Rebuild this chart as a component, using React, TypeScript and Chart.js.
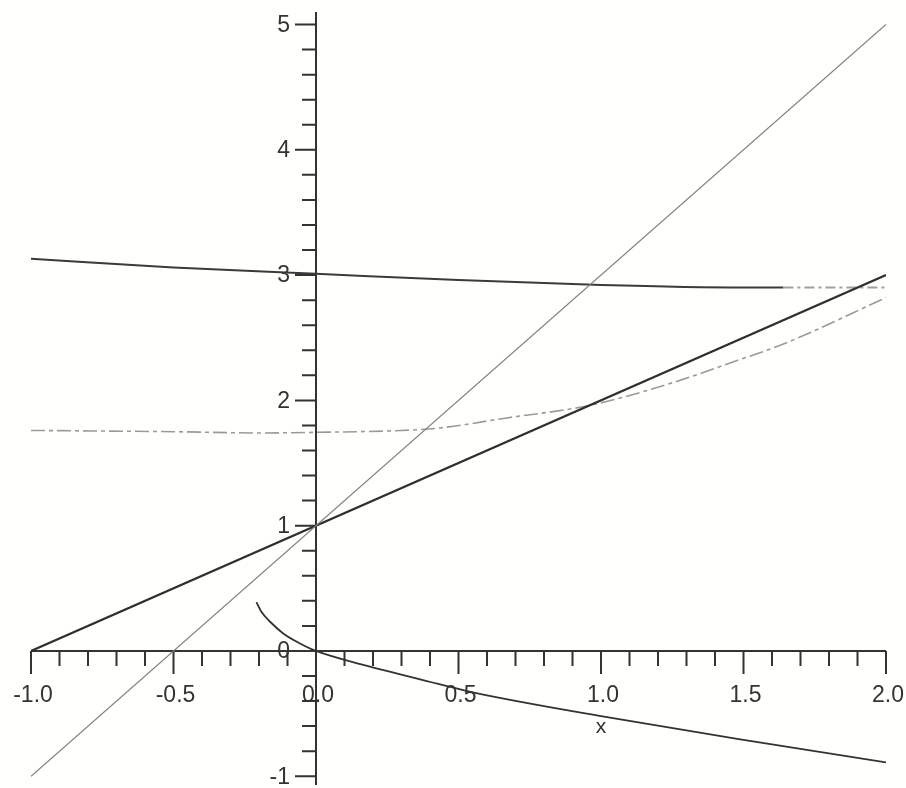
import React, { useEffect, useRef } from "react";
import { Chart, registerables } from "chart.js";

Chart.register(...registerables);

// ---- data ----
const lineX = [-1, 2];
const lineSteep = [-1, 5]; // y = 2x + 1
const lineMid = [0, 3]; // y = x + 1

const topCurveX = [-1, -0.5, 0, 0.5, 1, 1.5, 1.64, 2];
const topCurveY = [3.13, 3.06, 3.01, 2.96, 2.92, 2.9, 2.9, 2.9];

const dashCurveX = [-1, -0.5, -0.2, 0, 0.3, 0.435, 0.67, 0.96, 1.25, 1.48, 1.64, 2];
const dashCurveY = [1.76, 1.75, 1.74, 1.745, 1.76, 1.78, 1.86, 1.96, 2.14, 2.32, 2.45, 2.82];

const lowCurveX = [-0.209, -0.191, -0.162, -0.115, -0.056, 0, 0.18, 0.46, 0.55, 1.0, 1.5, 2.0];
const lowCurveY = [0.39, 0.31, 0.235, 0.14, 0.06, 0.0, -0.12, -0.28, -0.33, -0.52, -0.71, -0.89];

const xMajorTicks = [-1.0, -0.5, 0.0, 0.5, 1.0, 1.5, 2.0];
const xTickLabels = ["-1.0", "-0.5", "0.0", "0.5", "1.0", "1.5", "2.0"];
const yMajorTicks = [-1, 0, 1, 2, 3, 4, 5];
const yTickLabels = ["-1", "0", "1", "2", "3", "4", "5"];
const xAxisTitle = "x";

const pts = (xs: number[], ys: number[]) => xs.map((x, i) => ({ x, y: ys[i] }));

const INK = "#333333";

const axesPlugin = {
  id: "mapleAxes",
  beforeDatasetsDraw(chart: any) {
    const { ctx, chartArea, scales } = chart;
    const xs = scales.x;
    const ys = scales.y;
    const ox = xs.getPixelForValue(0);
    const oy = ys.getPixelForValue(0);
    ctx.save();
    ctx.strokeStyle = INK;
    ctx.fillStyle = INK;
    ctx.lineWidth = 2;
    // axis lines
    ctx.beginPath();
    ctx.moveTo(ox, chartArea.top);
    ctx.lineTo(ox, chartArea.bottom);
    ctx.moveTo(xs.getPixelForValue(-1), oy);
    ctx.lineTo(xs.getPixelForValue(2), oy);
    ctx.stroke();
    // x ticks every 0.1
    ctx.beginPath();
    for (let i = -10; i <= 20; i++) {
      const px = xs.getPixelForValue(i / 10);
      const len = i % 5 === 0 ? 23 : 15;
      ctx.moveTo(px, oy);
      ctx.lineTo(px, oy + len);
    }
    // y ticks every 0.2
    for (let i = -5; i <= 25; i++) {
      const py = ys.getPixelForValue(i / 5);
      const len = i % 5 === 0 ? 21 : 14;
      ctx.moveTo(ox, py);
      ctx.lineTo(ox - len, py);
    }
    ctx.stroke();
    // labels
    ctx.font = "23px 'Liberation Sans', Arial, sans-serif";
    ctx.textAlign = "center";
    ctx.textBaseline = "middle";
    xMajorTicks.forEach((v, i) => {
      ctx.fillText(xTickLabels[i], xs.getPixelForValue(v) + 2, oy + 45);
    });
    ctx.textAlign = "right";
    yMajorTicks.forEach((v, i) => {
      ctx.fillText(yTickLabels[i], ox - 26, ys.getPixelForValue(v) + 1);
    });
    ctx.font = "21px 'Liberation Sans', Arial, sans-serif";
    ctx.textAlign = "center";
    ctx.fillText(xAxisTitle, xs.getPixelForValue(1.0), oy + 76);
    ctx.restore();
  },
};

export default function App() {
  const ref = useRef<HTMLCanvasElement | null>(null);
  useEffect(() => {
    if (!ref.current) return;
    const chart = new Chart(ref.current, {
      type: "scatter",
      data: {
        datasets: [
          {
            data: pts(lineX, lineSteep),
            showLine: true,
            borderColor: "#808080",
            borderWidth: 1.2,
            pointRadius: 0,
          },
          {
            data: pts(lineX, lineMid),
            showLine: true,
            borderColor: "#2f2f2f",
            borderWidth: 2.2,
            pointRadius: 0,
          },
          {
            data: pts(topCurveX, topCurveY),
            showLine: true,
            borderColor: "#3a3a3a",
            borderWidth: 2,
            pointRadius: 0,
            cubicInterpolationMode: "monotone",
            segment: {
              borderDash: (c: any) => (c.p0.parsed.x >= 1.63 ? [10, 4, 3, 4] : undefined),
              borderColor: (c: any) => (c.p0.parsed.x >= 1.63 ? "#a0a0a0" : undefined),
            },
          },
          {
            data: pts(dashCurveX, dashCurveY),
            showLine: true,
            borderColor: "#9a9a9a",
            borderWidth: 1.6,
            borderDash: [14, 4, 4, 4],
            pointRadius: 0,
            cubicInterpolationMode: "monotone",
          },
          {
            data: pts(lowCurveX, lowCurveY),
            showLine: true,
            borderColor: "#333333",
            borderWidth: 1.8,
            pointRadius: 0,
            cubicInterpolationMode: "monotone",
          },
        ],
      },
      options: {
        animation: false,
        responsive: false,
        devicePixelRatio: 1,
        layout: { padding: { left: 31, right: 20, top: 12, bottom: 3 } },
        plugins: { legend: { display: false }, tooltip: { enabled: false } },
        scales: {
          x: { type: "linear", min: -1, max: 2, display: false },
          y: { type: "linear", min: -1.07, max: 5.1, display: false },
        },
      },
      plugins: [axesPlugin],
    });
    return () => chart.destroy();
  }, []);
  return (
    <div
      style={{
        position: "fixed",
        left: 0,
        top: 0,
        width: 906,
        height: 788,
        background: "#fffffb",
      }}
    >
      <canvas ref={ref} width={906} height={788} />
    </div>
  );
}
